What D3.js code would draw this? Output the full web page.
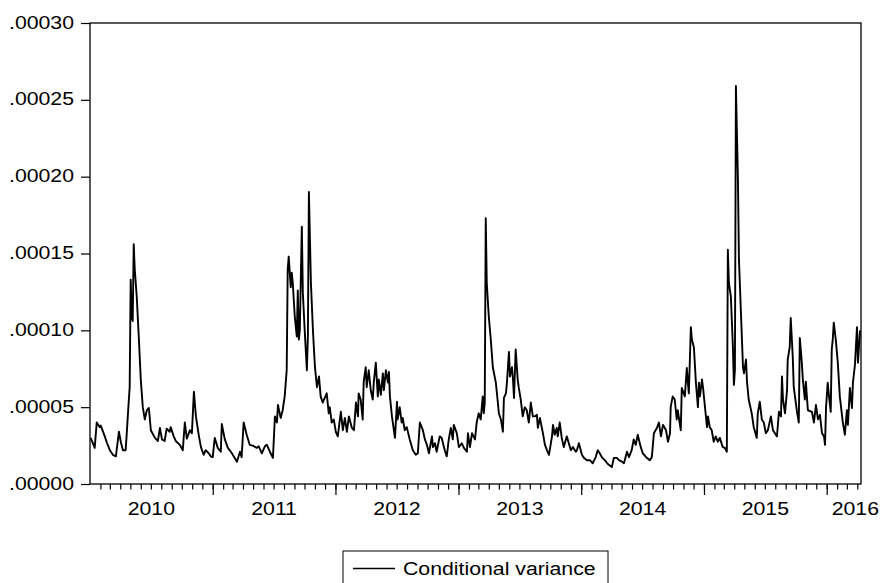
<!DOCTYPE html>
<html>
<head>
<meta charset="utf-8">
<script src="https://cdn.jsdelivr.net/npm/d3@7"></script>
<style>
  body { margin: 0; background: #fff; }
  svg { display: block; }
</style>
</head>
<body>
<div class="center"></div>
<script>

// observation dates, as days after 1 Jan 2010
var obsDays = [
  2,14,20,29,32,44,50,59,68,77, 86,92,98,106,109,115,118,121,124,127,
  130,133,139,145,151,157,163,169,175,181, 193,202,208,214,222,228,237,240,249,255,
  267,276,282,288,297,303,309,315,324,330, 338,344,353,359,
  365,371,380,389,392,401,410,422,437,446, 451,457,466,475,484,496,502,511,520,526,
  535,544,550,556,559,567,573,579,585,588, 591,597,600,603,609,615,618,621,624,630,
  633,639,645,648,651,657,663,669,675,681, 686,692,704,710,
  713,719,725,731,737,746,752,758,764,770, 779,785,791,797,799,805,811,814,820,823,
  829,835,841,844,850,856,859,865,871,874, 880,886,889,892,898,907,913,915,921,927,
  930,936,942,951,960,969,975,981,990,996, 1002,1008,1017,1020,1026,1031,1040,1046,1055,1061,
  1067,1073,1079,1082,1091,1097,
  1106,1112,1121,1124,1130,1136,1145,1150,1156,1162, 1168,1171,1174,1177,1180,1186,1192,1198,1207,1213,
  1216,1222,1228,1231,1237,1240,1246,1249,1255,1258, 1261,1266,1272,1275,1281,1287,1293,1299,1305,1311,
  1317,1323,1329,1332,1338,1347,1353,1359,1365,1374, 1377,1382,1388,1391,1397,1403,1409,1418,1424,1430,
  1436,1445,
  1448,1454,1463,1469,1478,1487,1495,1504,1510,1516, 1522,1531,1540,1552,1558,1567,1573,1582,1588,1597,
  1603,1611,1617,1623,1629,1638,1644,1656,1665,1671, 1677,1686,1692,1698,1704,1713,1719,1725,1727,1733,
  1739,1745,1748,1757,1760,1769,1775,1778,1781,1787, 1790,1796,1802,1808,1811,
  1814,1820,1823,1829,1835,1838,1843,1849,1855,1861, 1867,1873,1882,1888,1894,1897,1900,1906,1912,1915,
  1918,1921,1927,1930,1936,1942,1945,1951,1954,1959, 1968,1974,1983,1986,1992,1998,2004,2010,2016,2025,
  2031,2037,2043,2049,2055,2058,2061,2067,2073,2075, 2081,2084,2090,2093,2102,2108,2111,2117,2120,2126,
  2129,2135,2147,2153,2159,2165,2171,2177,2183,2186, 2189,2194,2197,2203,2206,2209,2212,2218,2224,2230,
  2239,2245,2251,2254,2260,2266,2269,2275,2281,2284, 2290
];

// conditional variance, in units of 1e-5
var condVariance = [
  3.0,2.35,4.0,3.7,3.8,3.1,2.7,2.2,1.9,1.8, 3.4,2.7,2.2,2.2,3.2,5.3,6.3,13.3,10.9,10.6,
  15.6,14.0,12.2,9.6,6.8,5.0,4.2,4.8,4.95,3.5, 3.0,2.8,3.65,2.9,2.8,3.6,3.4,3.7,3.1,2.8,
  2.55,2.2,4.0,2.95,3.5,3.3,6.0,4.4,3.1,2.4, 1.9,2.2,2.0,1.8,
  1.75,3.0,2.35,2.1,3.9,2.9,2.35,2.0,1.45,2.1, 1.75,4.0,3.2,2.55,2.5,2.35,2.45,2.0,2.45,2.55,
  2.1,1.7,4.4,4.0,5.15,4.3,4.8,5.7,7.4,13.95, 14.8,12.8,13.75,13.1,10.9,9.6,12.6,9.4,10.0,16.75,
  12.45,9.8,7.4,9.6,19.0,13.1,10.0,7.6,6.3,7.0, 5.7,5.3,5.9,4.6,
  5.0,4.0,4.2,3.4,3.1,4.7,3.5,4.3,3.4,4.4, 3.65,3.5,5.3,4.4,5.9,5.5,4.2,6.65,7.6,6.3,
  7.4,6.1,5.5,6.6,7.9,5.7,6.8,5.8,7.2,6.1, 7.4,6.6,7.3,5.7,4.4,3.0,5.35,4.2,5.0,4.0,
  4.3,3.5,3.7,2.9,2.2,1.9,2.0,4.0,3.5,2.9, 2.55,2.0,3.1,2.4,2.65,2.1,3.1,3.0,2.2,1.8,
  2.9,3.65,2.9,3.85,3.3,2.4,
  2.65,2.35,2.1,3.3,2.4,3.3,2.9,4.0,4.6,4.2, 5.7,4.6,5.3,17.3,13.1,10.9,9.4,7.6,6.6,5.3,
  4.6,4.2,3.4,5.6,5.9,6.6,8.6,7.0,7.6,6.8, 5.6,8.75,6.8,6.3,5.5,4.4,5.0,4.8,4.0,5.3,
  4.4,4.4,4.5,3.65,4.3,3.3,2.55,2.2,1.9,3.1, 3.85,3.2,3.65,3.1,4.0,3.0,2.4,3.1,2.65,2.2,
  2.4,2.1,
  2.2,2.65,1.9,1.7,1.55,1.55,1.35,1.75,2.2,2.0, 1.75,1.55,1.3,1.1,1.7,1.7,1.55,1.45,1.35,2.1,
  1.75,2.2,2.9,2.55,3.2,2.4,2.0,1.7,1.55,1.75, 3.3,3.65,4.0,3.1,3.85,3.5,2.75,3.3,5.0,5.7,
  5.5,4.2,4.8,3.5,6.25,5.7,7.55,6.65,5.9,10.2, 9.4,8.9,6.6,5.0,6.6,
  5.7,6.8,6.3,5.0,3.7,4.4,3.7,3.5,2.75,3.1, 2.75,3.0,2.4,2.35,2.1,15.25,13.1,12.2,8.9,6.45,
  7.4,25.9,19.8,14.6,11.1,7.6,7.2,8.1,6.65,5.5, 4.6,3.7,3.0,4.6,5.35,4.2,4.0,3.3,3.5,4.4,
  3.5,3.3,3.1,4.7,4.4,7.0,5.5,4.6,6.1,8.1, 8.9,10.8,8.3,6.3,4.8,4.0,9.5,7.9,6.8,5.5,
  6.65,4.8,4.7,4.0,5.15,4.2,4.5,3.3,3.1,2.55, 4.95,6.6,5.9,4.7,8.75,9.4,10.5,9.4,7.9,5.7,
  4.0,3.2,4.8,3.85,6.25,4.95,6.6,7.75,10.2,7.9, 10.0
];

var yTicks = [0, 0.00005, 0.0001, 0.00015, 0.0002, 0.00025, 0.0003];
var yearLabels = ["2010", "2011", "2012", "2013", "2014", "2015", "2016"];
var seriesName = "Conditional variance";

var width = 880,
    height = 583;
// plot box
var plotLeft = 90, plotRight = 861, plotTop = 23, plotBottom = 484;
var font = "'Liberation Sans', Arial, Helvetica, sans-serif";
var fontSize = 18.5;
var stretch = "scale(1.15,1)";   // the picture is a bit wide, so the text is too

var start = new Date(Date.UTC(2010, 0, 1));
var end = d3.utcDay.offset(start, 2293);

var data = obsDays.map(function(d, i) {
  return { date: d3.utcDay.offset(start, d), value: condVariance[i] * 1e-5 };
});

var svg = d3.select(".center").append("svg")
    .attr("width", width)
    .attr("height", height);

var x = d3.scaleUtc()
    .domain([start, end])
    .range([plotLeft, plotRight]);

var y = d3.scaleLinear()
    .domain([0, 0.0003])
    .range([plotBottom, plotTop]);

// y axis, labels like ".00015"
var yAxis = svg.append("g")
    .attr("transform", "translate(" + plotLeft + ",0)")
    .call(d3.axisLeft(y)
      .tickValues(yTicks)
      .tickSize(9)
      .tickFormat(function(d) { return d3.format(".5f")(d).replace(/^0/, ""); }));

yAxis.select(".domain").remove();
yAxis.selectAll("line").attr("stroke", "#000").attr("stroke-width", 1.2);
yAxis.selectAll("text")
    .attr("x", -16 / 1.15)
    .attr("dy", null)
    .attr("y", 5)
    .attr("transform", stretch)
    .attr("fill", "#000")
    .attr("font-family", font)
    .attr("font-size", fontSize);

// x axis: month ticks short, year ticks long
var afterStart = d3.utcDay.offset(start, 1);

var minor = svg.append("g")
    .attr("transform", "translate(0," + plotBottom + ")")
    .call(d3.axisBottom(x)
      .tickValues(d3.utcMonth.range(afterStart, end))
      .tickSize(5.5)
      .tickFormat(""));
minor.select(".domain").remove();
minor.selectAll("line").attr("stroke", "#000").attr("stroke-width", 1.2);

var major = svg.append("g")
    .attr("transform", "translate(0," + plotBottom + ")")
    .call(d3.axisBottom(x)
      .tickValues(d3.utcYear.range(afterStart, end))
      .tickSize(11)
      .tickFormat(""));
major.select(".domain").remove();
major.selectAll("line").attr("stroke", "#000").attr("stroke-width", 1.2);

// year labels sit in the middle of each year
svg.selectAll(".year")
    .data(yearLabels)
    .enter().append("text")
    .attr("class", "year")
    .attr("transform", function(d) {
      var y0 = new Date(Date.UTC(+d, 0, 1)),
          y1 = new Date(Date.UTC(+d + 1, 0, 1));
      var cx = y1 > end ? x(y0) + 5 : (x(y0) + x(y1)) / 2;
      return "translate(" + cx + ",515) " + stretch;
    })
    .attr("text-anchor", function(d) {
      return new Date(Date.UTC(+d + 1, 0, 1)) > end ? "start" : "middle";
    })
    .attr("font-family", font)
    .attr("font-size", fontSize)
    .text(function(d) { return d; });

// the series
var line = d3.line()
    .x(function(d) { return x(d.date); })
    .y(function(d) { return y(d.value); });

svg.append("path")
    .datum(data)
    .attr("d", line)
    .attr("fill", "none")
    .attr("stroke", "#000")
    .attr("stroke-width", 1.9)
    .attr("stroke-linejoin", "round");

// frame
svg.append("rect")
    .attr("x", plotLeft)
    .attr("y", plotTop)
    .attr("width", plotRight - plotLeft)
    .attr("height", plotBottom - plotTop)
    .attr("fill", "none")
    .attr("stroke", "#000")
    .attr("stroke-width", 1.3);

// legend
var legend = svg.append("g");

legend.append("rect")
    .attr("x", 343)
    .attr("y", 551)
    .attr("width", 265)
    .attr("height", 45)
    .attr("fill", "#fff")
    .attr("stroke", "#000")
    .attr("stroke-width", 1);

legend.append("line")
    .attr("x1", 353)
    .attr("x2", 395)
    .attr("y1", 568.5)
    .attr("y2", 568.5)
    .attr("stroke", "#000")
    .attr("stroke-width", 1.5);

legend.append("text")
    .attr("transform", "translate(403,575) " + stretch)
    .attr("font-family", font)
    .attr("font-size", fontSize)
    .text(seriesName);

</script>
</body>
</html>
